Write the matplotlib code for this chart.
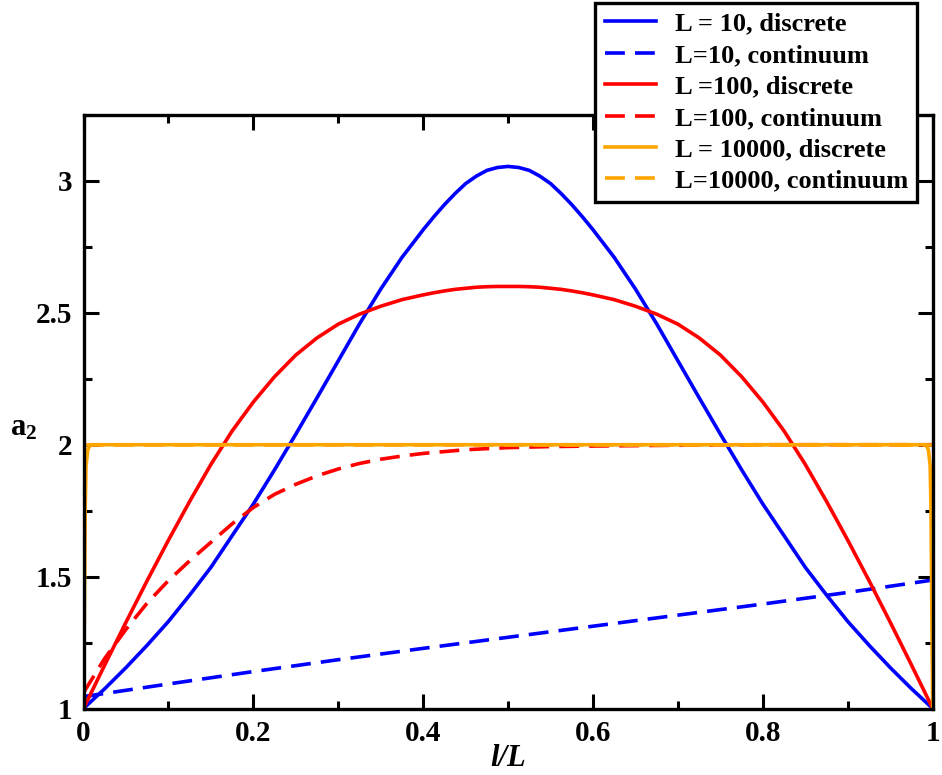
import numpy as np
import matplotlib
matplotlib.use("Agg")
import matplotlib.pyplot as plt
from matplotlib.ticker import MultipleLocator, FormatStrFormatter

plt.rcParams['font.family'] = ['Liberation Serif', 'DejaVu Serif']
plt.rcParams['font.weight'] = 'bold'
plt.rcParams['mathtext.fontset'] = 'custom'
plt.rcParams['mathtext.rm'] = 'Liberation Serif:bold'
plt.rcParams['mathtext.bf'] = 'Liberation Serif:bold'

# l/L values for the discrete curves (denser near the middle)
x_disc = [0.0, 0.025, 0.05, 0.075, 0.1, 0.125, 0.15, 0.175, 0.2, 0.225,
          0.25, 0.275, 0.3, 0.325, 0.35, 0.375, 0.4, 0.4125, 0.425, 0.4375,
          0.45, 0.4625, 0.475, 0.4875, 0.5, 0.5125, 0.525, 0.5375, 0.55, 0.5625,
          0.575, 0.5875, 0.6, 0.625, 0.65, 0.675, 0.7, 0.725, 0.75, 0.775,
          0.8, 0.825, 0.85, 0.875, 0.9, 0.925, 0.95, 0.975, 1.0]

a2_L10_discrete = [1.000, 1.075, 1.155, 1.240, 1.330, 1.430, 1.535, 1.655, 1.775, 1.905,
                   2.040, 2.178, 2.318, 2.458, 2.590, 2.710, 2.815, 2.864, 2.910, 2.952,
                   2.990, 3.018, 3.040, 3.051, 3.055, 3.051, 3.040, 3.018, 2.990, 2.952,
                   2.910, 2.864, 2.815, 2.710, 2.590, 2.458, 2.318, 2.178, 2.040, 1.905,
                   1.775, 1.655, 1.535, 1.430, 1.330, 1.240, 1.155, 1.075, 1.000]

a2_L100_discrete = [1.000, 1.165, 1.327, 1.485, 1.638, 1.785, 1.925, 2.052, 2.162, 2.258,
                    2.340, 2.405, 2.457, 2.495, 2.525, 2.550, 2.568, 2.576, 2.583, 2.589,
                    2.593, 2.597, 2.599, 2.600, 2.600, 2.600, 2.599, 2.597, 2.593, 2.589,
                    2.583, 2.576, 2.568, 2.550, 2.525, 2.495, 2.457, 2.405, 2.340, 2.258,
                    2.162, 2.052, 1.925, 1.785, 1.638, 1.485, 1.327, 1.165, 1.000]

x_L10_cont = [0.0, 0.1, 0.2, 0.3, 0.4, 0.5, 0.6, 0.7, 0.8, 0.9, 1.0]
a2_L10_cont = [1.045, 1.093, 1.140, 1.185, 1.228, 1.270, 1.312, 1.354, 1.396, 1.440, 1.487]

x_L100_cont = [0.0, 0.025, 0.05, 0.075, 0.1, 0.125, 0.15, 0.175, 0.2, 0.225, 0.25, 0.275,
               0.3, 0.325, 0.35, 0.375, 0.4, 0.45, 0.5, 0.55, 0.6, 0.7, 0.8, 0.9, 1.0]
a2_L100_cont = [1.06, 1.19, 1.30, 1.40, 1.485, 1.56, 1.63, 1.70, 1.762, 1.812, 1.850, 1.882,
                1.908, 1.929, 1.945, 1.957, 1.967, 1.981, 1.989, 1.993, 1.995, 1.998, 2.0, 2.0, 2.0]

x_L10000_disc = [0.0, 0.001, 0.002, 0.003, 0.005, 0.008, 0.992, 0.995, 0.997, 0.998, 0.999, 1.0]
a2_L10000_disc = [1.0, 1.35, 1.75, 1.92, 1.98, 2.0, 2.0, 1.98, 1.92, 1.75, 1.35, 1.0]

x_L10000_cont = [0.0, 1.0]
a2_L10000_cont = [2.0, 2.0]

BLUE = '#0000ff'
RED = '#ff0000'
ORANGE = '#ffa500'
lw = 2.6
dash = (0, (5.5, 2.8))

fig = plt.figure(figsize=(9.42, 7.75), dpi=100)
ax = fig.add_axes([83.5 / 942, 1 - 708.5 / 775, (932.7 - 83.5) / 942, (708.5 - 115) / 775])

kw = dict(lw=lw, solid_joinstyle='round', dash_capstyle='butt')
h1, = ax.plot(x_disc, a2_L10_discrete, color=BLUE, label='L = 10, discrete', **kw)
h2, = ax.plot(x_L10_cont, a2_L10_cont, color=BLUE, linestyle=dash, label='L=10, continuum', **kw)
h3, = ax.plot(x_disc, a2_L100_discrete, color=RED, label='L =100, discrete', **kw)
h4, = ax.plot(x_L100_cont, a2_L100_cont, color=RED, linestyle=dash, label='L=100, continuum', **kw)
h5, = ax.plot(x_L10000_disc, a2_L10000_disc, color=ORANGE, label='L = 10000, discrete', **kw)
h6, = ax.plot(x_L10000_cont, a2_L10000_cont, color=ORANGE, linestyle=dash,
              label='L=10000, continuum', **kw)

ax.set_xlim(0, 1)
ax.set_ylim(1, 3.25)
ax.xaxis.set_major_locator(MultipleLocator(0.2))
ax.xaxis.set_minor_locator(MultipleLocator(0.1))
ax.yaxis.set_major_locator(MultipleLocator(0.5))
ax.yaxis.set_minor_locator(MultipleLocator(0.25))
ax.xaxis.set_major_formatter(FormatStrFormatter('%g'))
ax.yaxis.set_major_formatter(FormatStrFormatter('%g'))
ax.tick_params(which='both', direction='in', top=True, right=True, width=2.2, labelsize=21, pad=8)
ax.tick_params(which='major', length=11)
ax.tick_params(which='minor', length=5.5)
for s in ax.spines.values():
    s.set_linewidth(2.4)

ax.set_xlabel('l/L', fontsize=22, style='italic', fontweight='bold', labelpad=-2)
fig.text(24 / 942, 1 - 428 / 775, r'$\mathbf{a_2}$', fontsize=22, ha='center', va='center')

leg = fig.legend(handles=[h1, h2, h3, h4, h5, h6], loc='upper right',
                 bbox_to_anchor=(917 / 942, 1 - 3 / 775), bbox_transform=fig.transFigure,
                 borderaxespad=0, fancybox=False, framealpha=1, edgecolor='black',
                 fontsize=19, handlelength=1.95, handletextpad=0.7, labelspacing=0.3,
                 borderpad=0.35)
leg.get_frame().set_linewidth(2.4)

fig.savefig('out.png', dpi=100)
